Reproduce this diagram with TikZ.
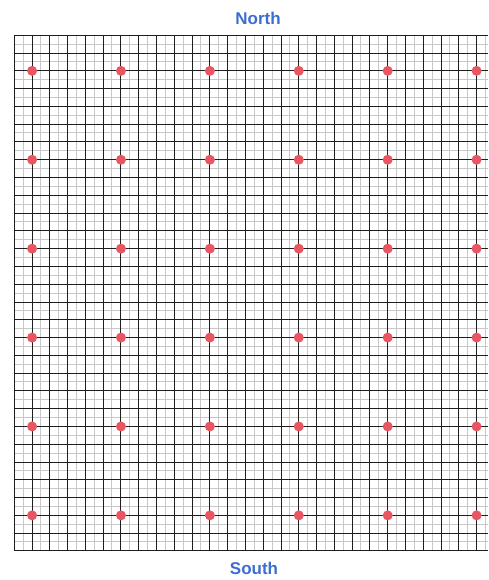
\documentclass[tikz,border=0pt]{standalone}
\usepackage{fontspec}
\setmainfont{Liberation Sans}
\definecolor{labelblue}{RGB}{58,110,208}
\definecolor{dotred}{RGB}{232,86,98}
\definecolor{majorgray}{RGB}{30,30,30}
\definecolor{minorgray}{RGB}{200,200,200}
\begin{document}
\begin{tikzpicture}[x=1pt,y=-1pt,
  minorline/.style={draw=minorgray,line width=0.6pt},
  majorline/.style={draw=majorgray,line width=1pt},
  dot/.style={circle,fill=dotred,inner sep=0pt,minimum size=10pt},
  label/.style={font=\bfseries\fontsize{17}{20}\selectfont,text=labelblue}]
\useasboundingbox (0,0) rectangle (488,580);
\def\gs{17.78}
\begin{scope}
\clip (0,0) rectangle (488,580);
% minor lines
\foreach \i in {0,...,27} {
  \draw[minorline] ({14+(\i+0.5)*\gs},35) -- ({14+(\i+0.5)*\gs},{35+29*\gs});
}
\foreach \j in {0,...,28} {
  \draw[minorline] (14,{35+(\j+0.5)*\gs}) -- (488,{35+(\j+0.5)*\gs});
}
% major lines
\foreach \i in {0,...,27} {
  \draw[majorline] ({14.3+\i*\gs},35) -- ({14.3+\i*\gs},{35+29*\gs});
}
\foreach \j in {0,...,29} {
  \draw[majorline] (14,{35.3+\j*\gs}) -- (488,{35.3+\j*\gs});
}
\end{scope}
% dots
\foreach \c in {0,...,5} {
  \foreach \r in {0,...,5} {
    \node[dot] (d\c\r) at ({14.3+(1+5*\c)*\gs},{35.3+(2+5*\r)*\gs}) {};
  }
}
\node[label] (north) at (258,18) {North};
\node[label] (south) at (254,568) {South};
\end{tikzpicture}
\end{document}
